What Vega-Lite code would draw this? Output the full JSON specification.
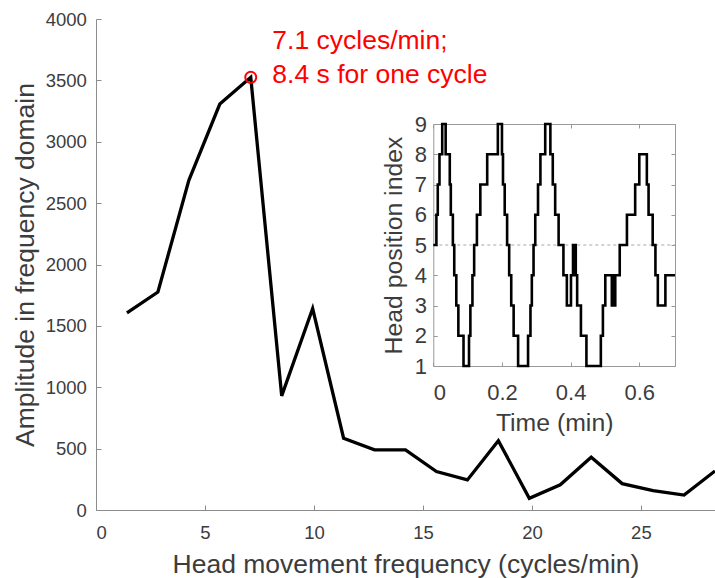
{
  "$schema": "https://vega.github.io/schema/vega-lite/v6.json",
  "width": 619,
  "height": 491,
  "autosize": {"type": "none"},
  "padding": {"left": 96, "top": 19, "right": 0, "bottom": 68},
  "background": "white",
  "config": {
    "view": {"stroke": null},
    "font": "Liberation Sans",
    "axis": {
      "grid": false,
      "domainColor": "#8c8c8c",
      "tickColor": "#8c8c8c",
      "labelColor": "#3c3c3c",
      "titleColor": "#3c3c3c",
      "titleFontWeight": "normal",
      "labelFont": "Liberation Sans",
      "titleFont": "Liberation Sans"
    }
  },
  "datasets": {
    "spectrum": [
      {"freq": 1.42, "amp": 1605},
      {"freq": 2.84, "amp": 1776},
      {"freq": 4.26, "amp": 2686},
      {"freq": 5.68, "amp": 3307},
      {"freq": 7.10, "amp": 3525},
      {"freq": 8.52, "amp": 930},
      {"freq": 9.94, "amp": 1641},
      {"freq": 11.36, "amp": 585},
      {"freq": 12.78, "amp": 490},
      {"freq": 14.20, "amp": 490},
      {"freq": 15.62, "amp": 313},
      {"freq": 17.04, "amp": 245},
      {"freq": 18.46, "amp": 565},
      {"freq": 19.88, "amp": 95},
      {"freq": 21.30, "amp": 205},
      {"freq": 22.72, "amp": 430},
      {"freq": 24.14, "amp": 215},
      {"freq": 25.56, "amp": 158},
      {"freq": 26.98, "amp": 122},
      {"freq": 28.40, "amp": 318}
    ],
    "peak": [{"freq": 7.10, "amp": 3525}],
    "note": [
      {"freq": 8.09, "amp": 3753, "label": "7.1 cycles/min;"},
      {"freq": 8.09, "amp": 3476, "label": "8.4 s for one cycle"}
    ],
    "trace": [
      {"t": 0, "idx": 5}, {"t": 0.009, "idx": 6}, {"t": 0.013, "idx": 7}, {"t": 0.018, "idx": 8},
      {"t": 0.026, "idx": 9}, {"t": 0.036, "idx": 8}, {"t": 0.048, "idx": 7}, {"t": 0.051, "idx": 6},
      {"t": 0.057, "idx": 5}, {"t": 0.061, "idx": 4}, {"t": 0.067, "idx": 3}, {"t": 0.073, "idx": 2},
      {"t": 0.088, "idx": 1}, {"t": 0.104, "idx": 2}, {"t": 0.108, "idx": 3}, {"t": 0.114, "idx": 4},
      {"t": 0.119, "idx": 5}, {"t": 0.127, "idx": 6}, {"t": 0.137, "idx": 7}, {"t": 0.157, "idx": 8},
      {"t": 0.188, "idx": 9}, {"t": 0.200, "idx": 8}, {"t": 0.203, "idx": 7}, {"t": 0.208, "idx": 6},
      {"t": 0.215, "idx": 5}, {"t": 0.221, "idx": 4}, {"t": 0.227, "idx": 3}, {"t": 0.234, "idx": 2},
      {"t": 0.247, "idx": 1}, {"t": 0.276, "idx": 2}, {"t": 0.283, "idx": 3}, {"t": 0.287, "idx": 4},
      {"t": 0.292, "idx": 5}, {"t": 0.297, "idx": 6}, {"t": 0.305, "idx": 7}, {"t": 0.312, "idx": 8},
      {"t": 0.326, "idx": 9}, {"t": 0.341, "idx": 8}, {"t": 0.348, "idx": 7}, {"t": 0.355, "idx": 6},
      {"t": 0.365, "idx": 5}, {"t": 0.379, "idx": 4}, {"t": 0.389, "idx": 3}, {"t": 0.401, "idx": 4},
      {"t": 0.407, "idx": 5}, {"t": 0.410, "idx": 4}, {"t": 0.412, "idx": 5}, {"t": 0.415, "idx": 4},
      {"t": 0.419, "idx": 3}, {"t": 0.430, "idx": 2}, {"t": 0.446, "idx": 1}, {"t": 0.488, "idx": 2},
      {"t": 0.494, "idx": 3}, {"t": 0.501, "idx": 4}, {"t": 0.520, "idx": 3}, {"t": 0.523, "idx": 4},
      {"t": 0.526, "idx": 3}, {"t": 0.530, "idx": 4}, {"t": 0.543, "idx": 5}, {"t": 0.564, "idx": 6},
      {"t": 0.588, "idx": 7}, {"t": 0.600, "idx": 8}, {"t": 0.622, "idx": 7}, {"t": 0.627, "idx": 6},
      {"t": 0.639, "idx": 5}, {"t": 0.647, "idx": 4}, {"t": 0.654, "idx": 3}, {"t": 0.676, "idx": 4},
      {"t": 0.704, "idx": 4}
    ],
    "ref": [{"t0": 0, "t1": 0.704, "level": 5}]
  },
  "layer": [
    {
      "layer": [
        {
          "data": {"name": "spectrum"},
          "mark": {"type": "line", "color": "black", "strokeWidth": 3.3},
          "encoding": {
            "x": {
              "field": "freq", "type": "quantitative",
              "scale": {"domain": [0, 28.4], "nice": false, "zero": false},
              "axis": {
                "orient": "bottom", "values": [0, 5, 10, 15, 20, 25], "format": "d",
                "tickSize": -5, "labelPadding": 18.6, "labelFontSize": 18.5,
                "title": "Head movement frequency (cycles/min)", "titleFontSize": 26.5, "titlePadding": 9
              }
            },
            "y": {
              "field": "amp", "type": "quantitative",
              "scale": {"domain": [0, 4000], "nice": false, "zero": false},
              "axis": {
                "orient": "left", "values": [0, 500, 1000, 1500, 2000, 2500, 3000, 3500, 4000], "format": "d",
                "tickSize": -5, "labelPadding": 14.7, "labelFontSize": 18.5,
                "title": "Amplitude in frequency domain", "titleFontSize": 26.5, "titlePadding": 6
              }
            }
          }
        },
        {
          "data": {"name": "peak"},
          "mark": {"type": "point", "shape": "circle", "size": 121, "stroke": "red", "strokeWidth": 2, "filled": false, "opacity": 1},
          "encoding": {
            "x": {"field": "freq", "type": "quantitative"},
            "y": {"field": "amp", "type": "quantitative"}
          }
        },
        {
          "data": {"name": "note"},
          "mark": {"type": "text", "color": "red", "fontSize": 26.5, "align": "left", "baseline": "alphabetic", "font": "Liberation Sans"},
          "encoding": {
            "x": {"field": "freq", "type": "quantitative"},
            "y": {"field": "amp", "type": "quantitative"},
            "text": {"field": "label"}
          }
        }
      ]
    },
    {
      "layer": [
        {
          "data": {"name": "ref"},
          "mark": {"type": "rule", "color": "#a6a6a6", "strokeDash": [3, 3], "strokeWidth": 1},
          "encoding": {
            "x": {
              "field": "t0", "type": "quantitative",
              "scale": {"domain": [0, 0.704], "range": [337.3, 579], "nice": false, "zero": false},
              "axis": {"orient": "top", "offset": -105, "values": [0, 0.2, 0.4, 0.6], "tickSize": -4, "labels": false, "title": null, "domainColor": "#999999", "tickColor": "#999999"}
            },
            "x2": {"field": "t1"},
            "y": {
              "field": "level", "type": "quantitative",
              "scale": {"domain": [1, 9], "range": [347, 105], "nice": false, "zero": false},
              "axis": {"orient": "right", "offset": -40, "values": [1, 2, 3, 4, 5, 6, 7, 8, 9], "tickSize": -4, "labels": false, "title": null, "domainColor": "#999999", "tickColor": "#999999"}
            }
          }
        },
        {
          "data": {"name": "trace"},
          "mark": {"type": "line", "interpolate": "step-after", "color": "black", "strokeWidth": 2.6},
          "encoding": {
            "x": {
              "field": "t", "type": "quantitative",
              "axis": {
                "orient": "bottom", "offset": -144, "values": [0, 0.2, 0.4, 0.6], "format": "~g",
                "tickSize": -4, "labelPadding": 20, "labelFontSize": 22,
                "title": "Time (min)", "titleFontSize": 24.8, "titlePadding": 7,
                "domainColor": "#999999", "tickColor": "#999999"
              }
            },
            "y": {
              "field": "idx", "type": "quantitative",
              "axis": {
                "orient": "left", "offset": -337.3, "values": [1, 2, 3, 4, 5, 6, 7, 8, 9],
                "tickSize": -4, "labelPadding": 10.7, "labelFontSize": 22,
                "title": "Head position index", "titleFontSize": 24.8, "titlePadding": 8,
                "domainColor": "#999999", "tickColor": "#999999"
              }
            }
          }
        }
      ],
      "resolve": {"axis": {"x": "independent", "y": "independent"}}
    }
  ],
  "resolve": {"scale": {"x": "independent", "y": "independent"}, "axis": {"x": "independent", "y": "independent"}}
}
